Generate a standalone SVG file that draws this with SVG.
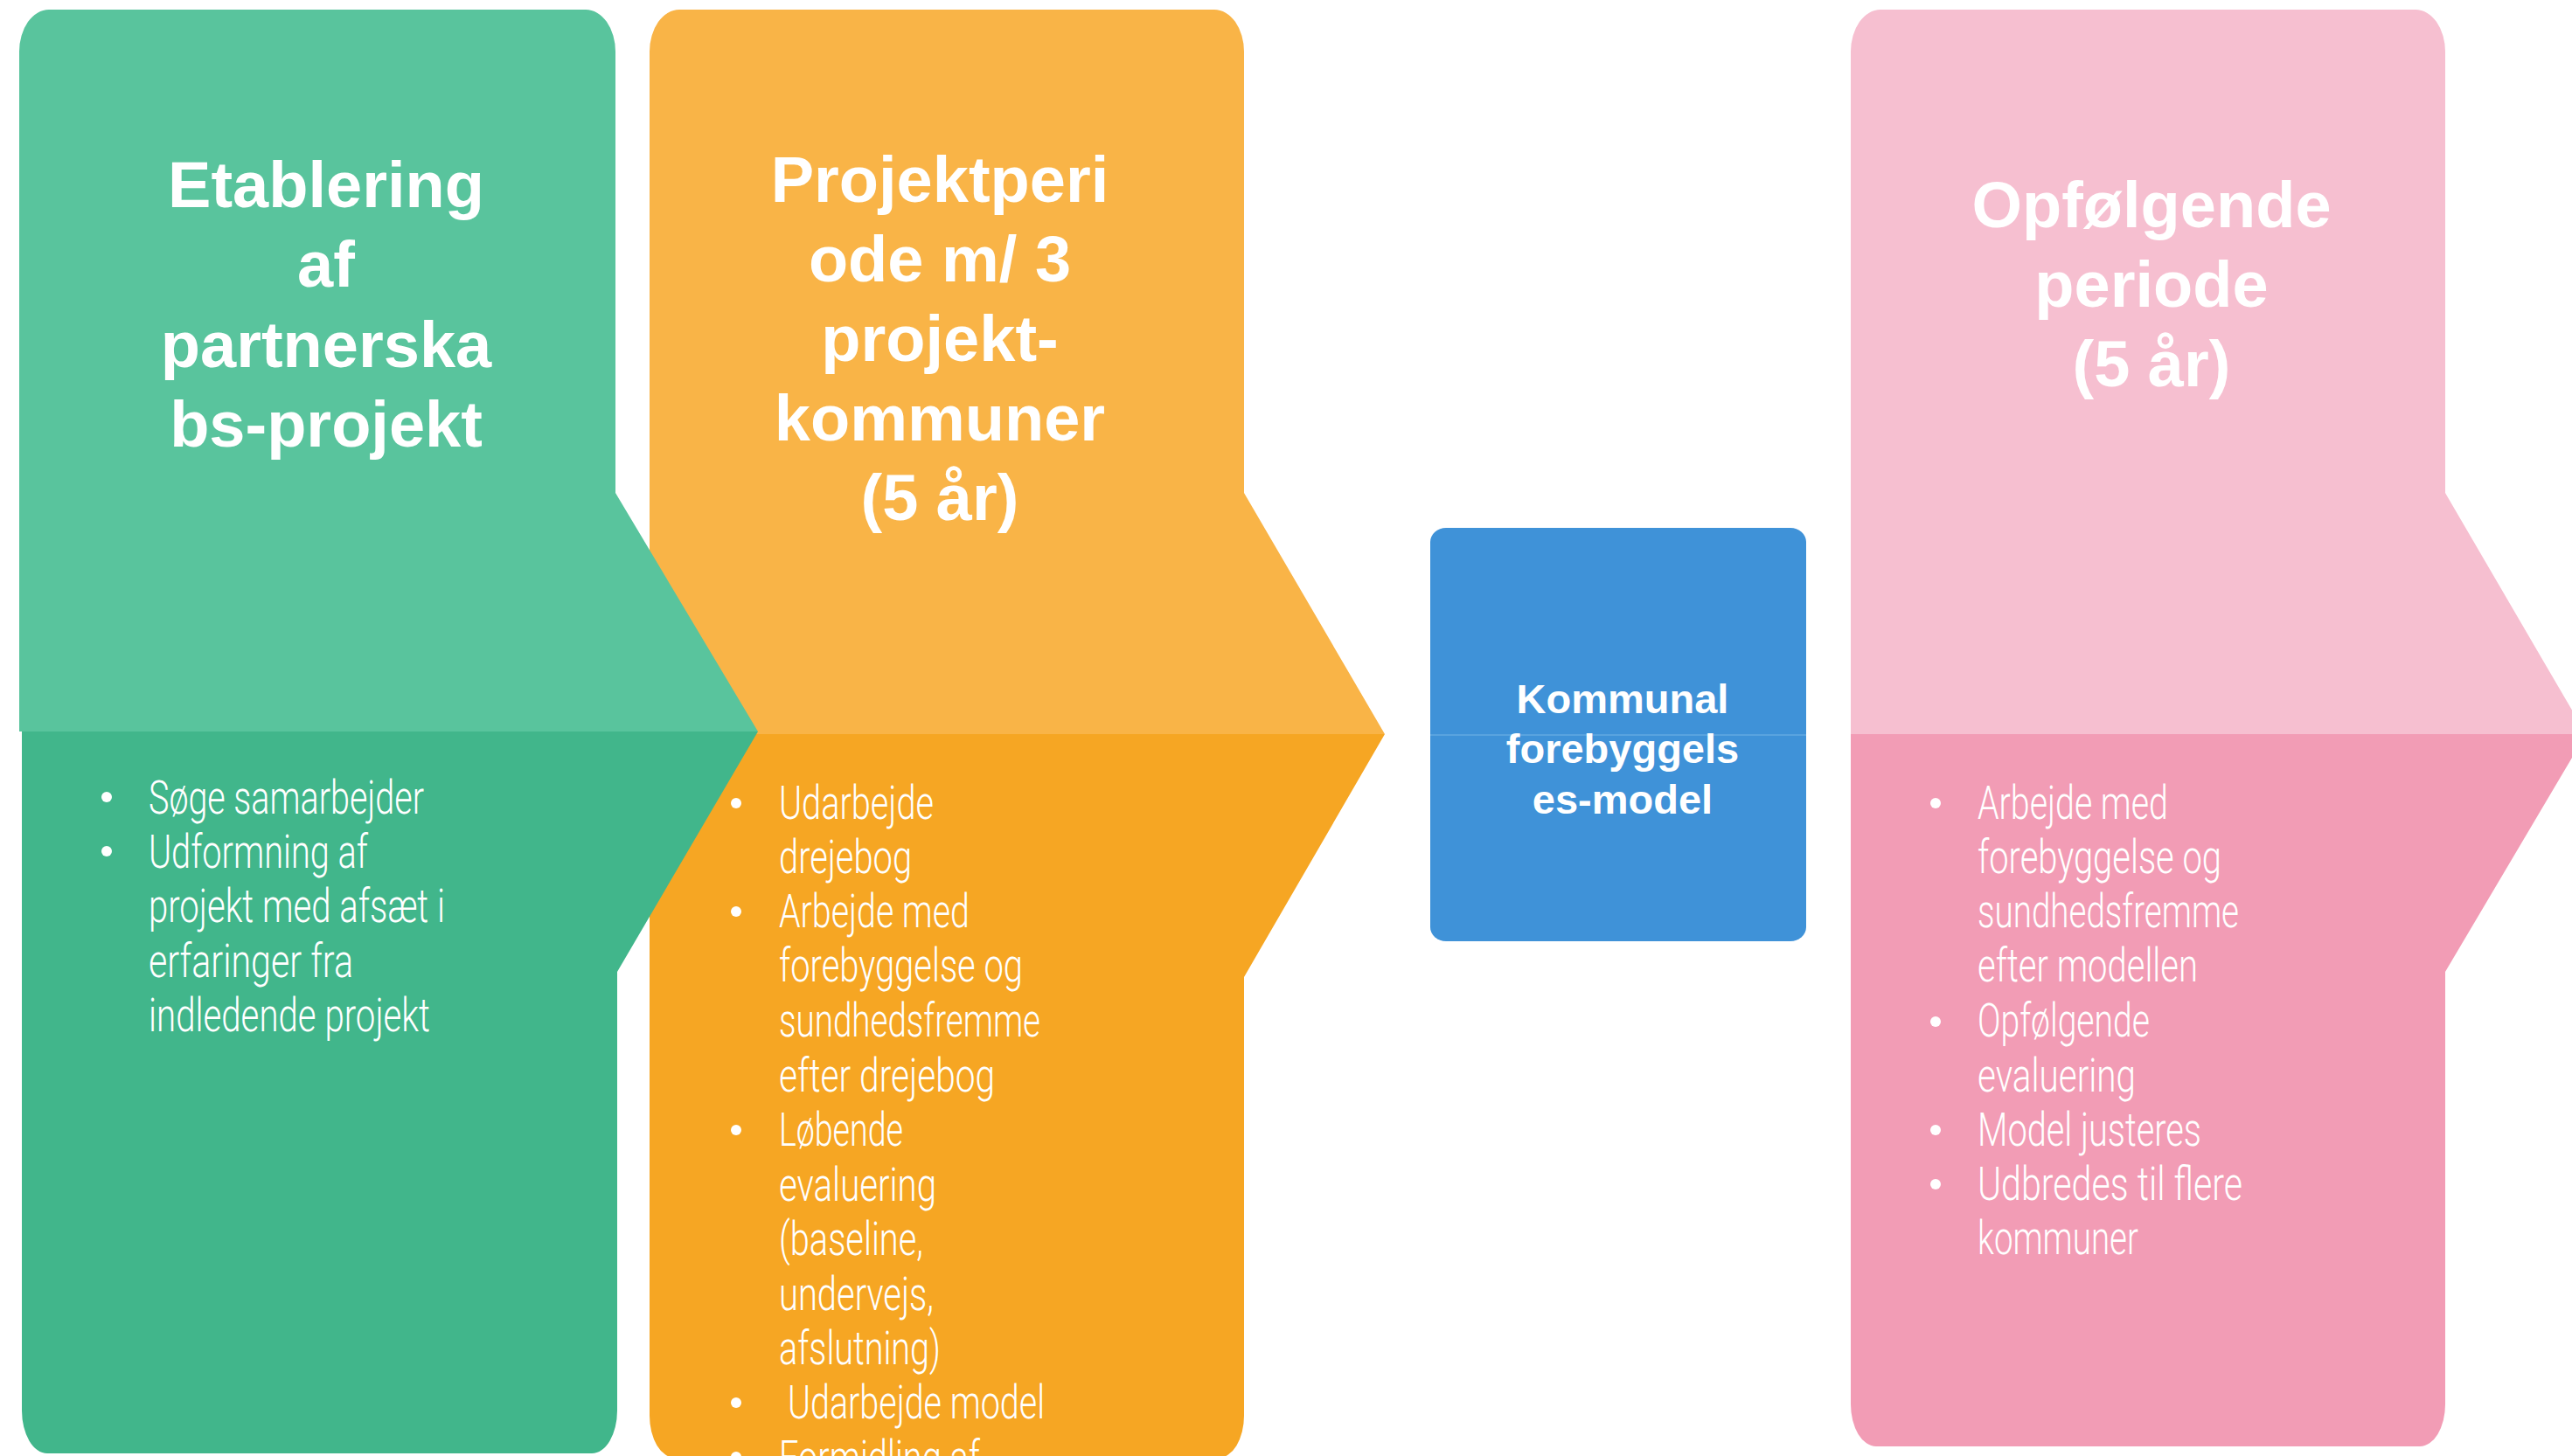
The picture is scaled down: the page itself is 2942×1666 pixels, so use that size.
<svg xmlns="http://www.w3.org/2000/svg" width="2942" height="1666" viewBox="0 0 2942 1666">
<style>
.title{font-family:"Liberation Sans",Arial,sans-serif;font-weight:bold;font-size:74px;fill:#ffffff;text-anchor:middle}
.btitle{font-family:"Liberation Sans",Arial,sans-serif;font-weight:bold;font-size:47px;fill:#ffffff;text-anchor:middle}
.item{font-family:Roboto,"Liberation Sans",sans-serif;font-weight:300;font-size:54px;fill:#ffffff}
.dot{fill:#ffffff}
</style>
<rect width="2942" height="1666" fill="#ffffff"/>
<g id="node-opfolgende">
<path d="M2117,840 L2117,59 A34,48 0 0 1 2151,11 L2763,11 A34,48 0 0 1 2797,59 L2797,564 L2958,840 Z" fill="#F6BFD0"/>
<path d="M2117,840 L2958,840 L2797,1112 L2797,1607 A29,48 0 0 1 2768,1655 L2146,1655 A29,48 0 0 1 2117,1607 Z" fill="#F29CB5"/>
<text class="title"><tspan x="2461" y="260">Opfølgende</tspan><tspan x="2461" y="351">periode</tspan><tspan x="2461" y="442">(5 år)</tspan></text>
<circle class="dot" cx="2214" cy="919" r="6"/>
<circle class="dot" cx="2214" cy="1169" r="6"/>
<circle class="dot" cx="2214" cy="1293" r="6"/>
<circle class="dot" cx="2214" cy="1355" r="6"/>
<text class="item" x="2262" y="937" textLength="218" lengthAdjust="spacingAndGlyphs">Arbejde med</text>
<text class="item" x="2262" y="999" textLength="279" lengthAdjust="spacingAndGlyphs">forebyggelse og</text>
<text class="item" x="2262" y="1061" textLength="299" lengthAdjust="spacingAndGlyphs">sundhedsfremme</text>
<text class="item" x="2262" y="1123" textLength="252" lengthAdjust="spacingAndGlyphs">efter modellen</text>
<text class="item" x="2262" y="1186" textLength="197" lengthAdjust="spacingAndGlyphs">Opfølgende</text>
<text class="item" x="2262" y="1249" textLength="181" lengthAdjust="spacingAndGlyphs">evaluering</text>
<text class="item" x="2262" y="1311" textLength="256" lengthAdjust="spacingAndGlyphs">Model justeres</text>
<text class="item" x="2262" y="1373" textLength="303" lengthAdjust="spacingAndGlyphs">Udbredes til flere</text>
<text class="item" x="2262" y="1435" textLength="184" lengthAdjust="spacingAndGlyphs">kommuner</text>
</g>
<g id="node-model">
<rect x="1636" y="604" width="430" height="473" rx="18" ry="16" fill="#3F92D8"/>
<line x1="1636" y1="841" x2="2066" y2="841" stroke="#63A8E2" stroke-width="1.5"/>
<text class="btitle"><tspan x="1856" y="816">Kommunal</tspan><tspan x="1856" y="873">forebyggels</tspan><tspan x="1856" y="931">es-model</tspan></text>
</g>
<g id="node-projektperiode">
<path d="M743,840 L743,59 A34,48 0 0 1 777,11 L1389,11 A34,48 0 0 1 1423,59 L1423,564 L1584,840 Z" fill="#F9B447"/>
<path d="M743,840 L1584,840 L1423,1118 L1423,1620 A29,48 0 0 1 1394,1668 L772,1668 A29,48 0 0 1 743,1620 Z" fill="#F6A623"/>
<text class="title"><tspan x="1075" y="231">Projektperi</tspan><tspan x="1075" y="322">ode m/ 3</tspan><tspan x="1075" y="413">projekt-</tspan><tspan x="1075" y="504">kommuner</tspan><tspan x="1075" y="595">(5 år)</tspan></text>
<circle class="dot" cx="842" cy="919" r="6"/>
<circle class="dot" cx="842" cy="1043" r="6"/>
<circle class="dot" cx="842" cy="1293" r="6"/>
<circle class="dot" cx="842" cy="1605" r="6"/>
<circle class="dot" cx="842" cy="1667" r="6"/>
<text class="item" x="891" y="937" textLength="177" lengthAdjust="spacingAndGlyphs">Udarbejde</text>
<text class="item" x="891" y="999" textLength="152" lengthAdjust="spacingAndGlyphs">drejebog</text>
<text class="item" x="891" y="1061" textLength="218" lengthAdjust="spacingAndGlyphs">Arbejde med</text>
<text class="item" x="891" y="1123" textLength="279" lengthAdjust="spacingAndGlyphs">forebyggelse og</text>
<text class="item" x="891" y="1186" textLength="299" lengthAdjust="spacingAndGlyphs">sundhedsfremme</text>
<text class="item" x="891" y="1249" textLength="247" lengthAdjust="spacingAndGlyphs">efter drejebog</text>
<text class="item" x="891" y="1311" textLength="142" lengthAdjust="spacingAndGlyphs">Løbende</text>
<text class="item" x="891" y="1374" textLength="180" lengthAdjust="spacingAndGlyphs">evaluering</text>
<text class="item" x="891" y="1436" textLength="165" lengthAdjust="spacingAndGlyphs">(baseline,</text>
<text class="item" x="891" y="1499" textLength="177" lengthAdjust="spacingAndGlyphs">undervejs,</text>
<text class="item" x="891" y="1561" textLength="185" lengthAdjust="spacingAndGlyphs">afslutning)</text>
<text class="item" x="901" y="1623" textLength="294" lengthAdjust="spacingAndGlyphs">Udarbejde model</text>
<text class="item" x="891" y="1686" textLength="230" lengthAdjust="spacingAndGlyphs">Formidling af</text>
</g>
<g id="node-etablering">
<path d="M22,837 L22,59 A34,48 0 0 1 56,11 L670,11 A34,48 0 0 1 704,59 L704,564 L867,837 Z" fill="#59C49D"/>
<path d="M25,837 L867,837 L706,1112 L706,1614 A29,49 0 0 1 677,1663 L54,1663 A29,49 0 0 1 25,1614 Z" fill="#41B68B"/>
<text class="title"><tspan x="373" y="237">Etablering</tspan><tspan x="373" y="328">af</tspan><tspan x="373" y="420">partnerska</tspan><tspan x="373" y="511">bs-projekt</tspan></text>
<circle class="dot" cx="122" cy="912" r="6"/>
<circle class="dot" cx="122" cy="974" r="6"/>
<text class="item" x="170" y="931" textLength="315" lengthAdjust="spacingAndGlyphs">Søge samarbejder</text>
<text class="item" x="170" y="993" textLength="251" lengthAdjust="spacingAndGlyphs">Udformning af</text>
<text class="item" x="170" y="1055" textLength="339" lengthAdjust="spacingAndGlyphs">projekt med afsæt i</text>
<text class="item" x="170" y="1118" textLength="234" lengthAdjust="spacingAndGlyphs">erfaringer fra</text>
<text class="item" x="170" y="1180" textLength="322" lengthAdjust="spacingAndGlyphs">indledende projekt</text>
</g>
<g id="connectors"></g>
</svg>
